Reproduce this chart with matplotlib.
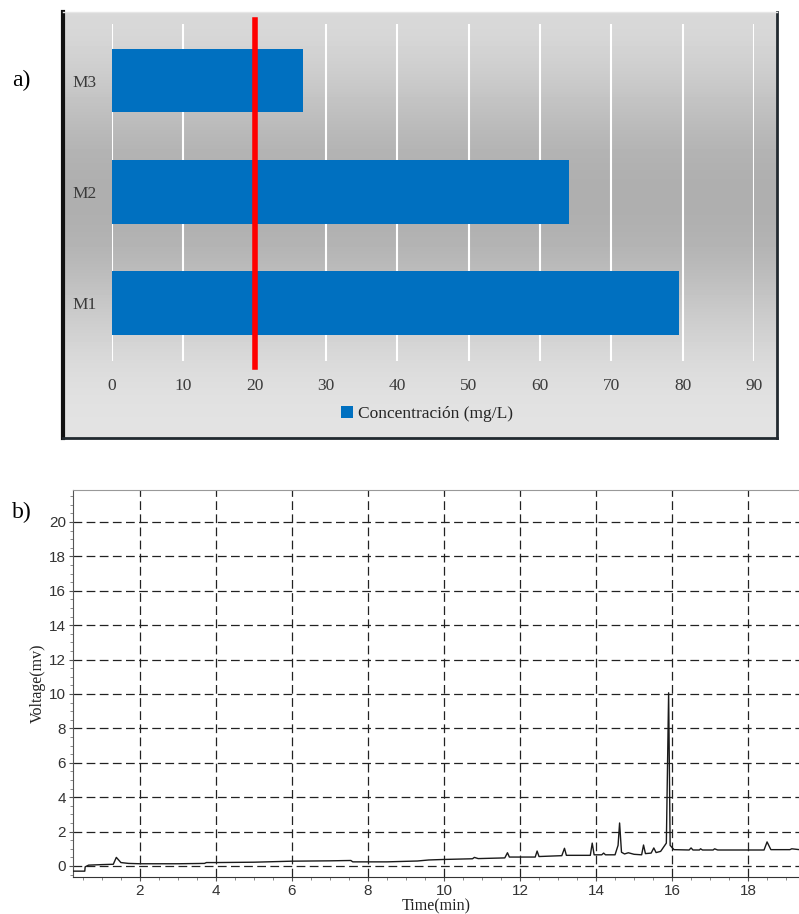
import matplotlib
matplotlib.use("Agg")
import matplotlib.pyplot as plt
import numpy as np
from matplotlib.patches import Patch
from matplotlib.ticker import MultipleLocator

# ---------------- data ----------------
samples = ["M1", "M2", "M3"]
concentration = [79.5, 64.1, 26.8]
threshold = 20
bar_ticks = [0, 10, 20, 30, 40, 50, 60, 70, 80, 90]
legend_label = "Concentración (mg/L)"

time_min = [0.24, 0.55, 0.56, 0.65, 1.0, 1.3, 1.38, 1.5, 1.7, 2.0, 3.0, 3.7, 3.75,
            4.0, 5.0, 5.5, 6.0, 7.0, 7.55, 7.6, 8.5, 9.3, 9.6, 10.0, 10.75, 10.8,
            10.9, 11.6, 11.67, 11.72, 12.4, 12.45, 12.5, 13.1, 13.17, 13.22, 13.85,
            13.9, 13.95, 14.15, 14.2, 14.25, 14.5, 14.58, 14.62, 14.67, 14.75,
            14.85, 15.0, 15.2, 15.25, 15.3, 15.45, 15.52, 15.58, 15.7, 15.85,
            15.91, 15.95, 16.05, 16.45, 16.5, 16.55, 16.72, 16.75, 16.8, 17.08,
            17.12, 17.2, 18.42, 18.5, 18.6, 19.1, 19.15, 19.35]
voltage_mv = [-0.3, -0.3, -0.05, 0.05, 0.08, 0.1, 0.5, 0.2, 0.15, 0.13, 0.13, 0.15, 0.2,
              0.2, 0.22, 0.25, 0.28, 0.3, 0.32, 0.24, 0.24, 0.29, 0.35, 0.38, 0.42, 0.5,
              0.43, 0.47, 0.77, 0.52, 0.52, 0.87, 0.55, 0.6, 1.03, 0.62, 0.62,
              1.33, 0.65, 0.65, 0.75, 0.65, 0.65, 1.2, 2.5, 0.8, 0.7,
              0.77, 0.68, 0.65, 1.22, 0.72, 0.75, 1.05, 0.78, 0.85, 1.33,
              10.07, 1.2, 0.95, 0.93, 1.05, 0.93, 0.93, 1.0, 0.93, 0.93,
              1.0, 0.93, 0.93, 1.4, 0.95, 0.95, 1.0, 0.95]
time_ticks = [2, 4, 6, 8, 10, 12, 14, 16, 18]
volt_ticks = [0, 2, 4, 6, 8, 10, 12, 14, 16, 18, 20]

W, H = 799, 914
fig = plt.figure(figsize=(W / 100, H / 100), dpi=100)
fig.patch.set_facecolor("white")

def rect(x0, y0, x1, y1):
    return [x0 / W, 1 - y1 / H, (x1 - x0) / W, (y1 - y0) / H]

serif = ["Liberation Serif", "DejaVu Serif"]
sans = ["Liberation Sans", "DejaVu Sans"]

# ---------------- panel a: frame with gradient ----------------
frame = fig.add_axes(rect(63, 12, 777, 438))
grad = np.array([0.85, 0.80, 0.74, 0.69, 0.68, 0.70, 0.76, 0.82, 0.87, 0.89])
frame.imshow(grad.reshape(-1, 1), cmap="gray", vmin=0, vmax=1, aspect="auto",
             extent=[0, 1, 0, 1], interpolation="bicubic")
frame.set_xlim(0, 1)
frame.set_ylim(0, 1)
frame.set_xticks([])
frame.set_yticks([])
frame.spines["left"].set_linewidth(3)
frame.spines["left"].set_color("#111111")
frame.spines["bottom"].set_linewidth(2)
frame.spines["bottom"].set_color("#222a30")
frame.spines["right"].set_linewidth(2)
frame.spines["right"].set_color("#222a30")
frame.spines["top"].set_linewidth(1)
frame.spines["top"].set_color("#e6e6e6")

ax1 = fig.add_axes(rect(112, 24, 754, 361))
ax1.patch.set_alpha(0)
ypos = np.arange(len(samples))
ax1.barh(ypos, concentration, height=0.57, color="#0070c0", zorder=2)
ax1.set_xlim(0, 90)
ax1.set_ylim(-0.52, 2.51)
for t in bar_ticks:
    ax1.axvline(t, color="white", lw=1.5, zorder=1)
ax1.axvline(threshold, ymin=-0.018, ymax=1.012, color="#ff0000", lw=4, zorder=3,
            clip_on=False)
for s in ax1.spines.values():
    s.set_visible(False)
ax1.set_xticks(bar_ticks)
ax1.set_yticks(ypos)
ax1.set_yticklabels(samples)
ax1.tick_params(length=0, labelsize=12.5, colors="#3a3a3a")
ax1.tick_params(axis="x", pad=12)
ax1.tick_params(axis="y", pad=11)
for lab in ax1.get_xticklabels() + ax1.get_yticklabels():
    lab.set_family(serif)

fig.legend(handles=[Patch(facecolor="#0070c0", edgecolor="none", label=legend_label)],
           loc="center", bbox_to_anchor=(427 / W, 1 - 414 / H), frameon=False,
           prop={"family": serif, "size": 12.5}, handlelength=0.7, handleheight=0.7,
           handletextpad=0.3, labelcolor="#262626")

fig.text(12 / W, 1 - 80 / H, "a)", family=serif, fontsize=17, va="center", ha="left")

# ---------------- panel b: chromatogram ----------------
ax2 = fig.add_axes(rect(73, 490, 799, 877))
ax2.plot(time_min, voltage_mv, color="#1a1a1a", lw=1.0, zorder=3)
ax2.set_xlim(0.24, 19.34)
ax2.set_ylim(-0.64, 21.86)
ax2.set_xticks(time_ticks)
ax2.set_yticks(volt_ticks)
ax2.xaxis.set_minor_locator(MultipleLocator(0.5))
ax2.yaxis.set_minor_locator(MultipleLocator(0.5))
ax2.grid(True, which="major", color="#222222", lw=0.9, linestyle=(0, (7, 3.5)))
ax2.spines["right"].set_visible(False)
ax2.spines["top"].set_color("#999999")
ax2.spines["left"].set_color("#555555")
ax2.spines["bottom"].set_color("#333333")
ax2.tick_params(which="major", direction="out", length=3, colors="#555555",
                labelcolor="#333333", labelsize=11, pad=2)
ax2.tick_params(which="minor", direction="out", length=2, colors="#777777")
for lab in ax2.get_xticklabels() + ax2.get_yticklabels():
    lab.set_family(sans)
ax2.set_xlabel("Time(min)", family=serif, fontsize=11.5, labelpad=0, color="#222222")
ax2.set_ylabel("Voltage(mv)", family=serif, fontsize=11.5, labelpad=2, color="#222222")

fig.text(12 / W, 1 - 512 / H, "b)", family=serif, fontsize=17, va="center", ha="left")

fig.savefig("out.png", dpi=100)
